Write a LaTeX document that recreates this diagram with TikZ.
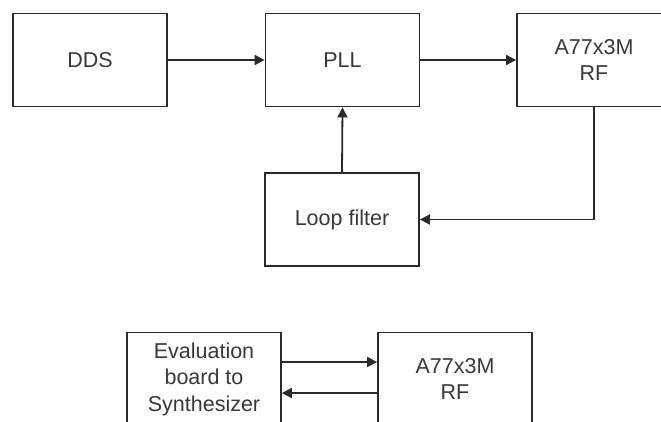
\documentclass[tikz,border=0pt]{standalone}
\usepackage{fontspec}
\setmainfont{Liberation Sans}
\usetikzlibrary{arrows.meta}
\definecolor{ln}{HTML}{2A2A2A}
\definecolor{tx}{HTML}{383838}
\tikzset{
  blk/.style={draw=ln, line width=1.8pt, rectangle, minimum width=154pt, minimum height=93pt,
    inner sep=0pt, align=center, text=tx, font=\fontsize{21.5}{26.5}\selectfont},
  arr/.style={draw=ln, line width=1.8pt, -{Triangle[length=10pt,width=10pt]}}
}
\begin{document}
\begin{tikzpicture}[x=1pt,y=-1pt]
\useasboundingbox (0,0) rectangle (661,421);
\node[blk] (dds) at (90,60) {DDS};
\node[blk] (pll) at (342.5,60) {PLL};
\node[blk] (rf1) at (594,60) {A77x3M\\RF};
\node[blk] (loop) at (342,219.5) {Loop filter};
\node[blk] (eval) at (204,379) {Evaluation\\board to\\Synthesizer};
\node[blk] (rf2) at (455,379) {A77x3M\\RF};
\draw[arr] (dds.east) -- (pll.west);
\draw[arr] (pll.east) -- (rf1.west);
\draw[arr] (loop.north) -- (pll.south);
\draw[arr] (rf1.south) |- (loop.east);
\coordinate (u) at (0,362);
\coordinate (d) at (0,393);
\draw[arr] (eval.east |- u) -- (rf2.west |- u);
\draw[arr] (rf2.west |- d) -- (eval.east |- d);
\end{tikzpicture}
\end{document}
